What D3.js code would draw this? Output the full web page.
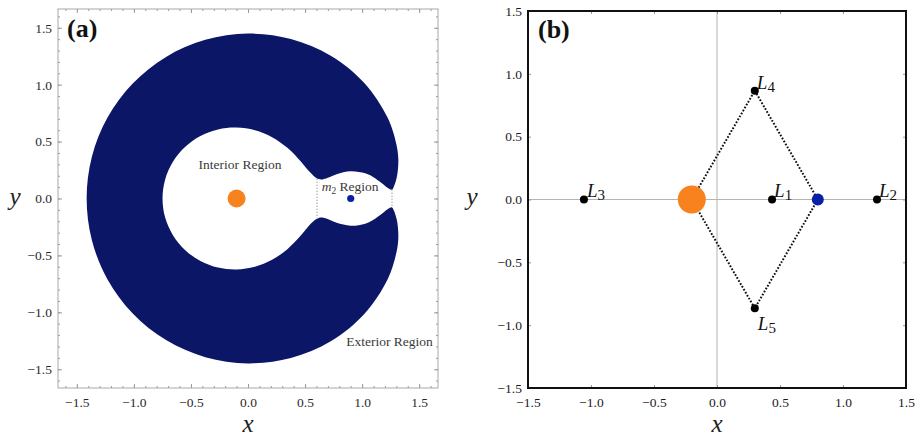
<!DOCTYPE html>
<html>
<head>
<meta charset="utf-8">
<script src="https://cdn.jsdelivr.net/npm/d3@7"></script>
<style>
  body { margin: 0; background: #fff; }
  svg { display: block; }
  svg text { font-family: "Liberation Serif", "Times New Roman", serif; }
</style>
</head>
<body>
<svg id="chart" width="921" height="438"></svg>
<script>
//// DATA ///////////////////////////////////////////////////////////////////////
// Panel (a): upper half of the forbidden (navy) region outline, read off the
// picture, going from the far left over the top, round the L2 tip, over the
// m2 lobe, through the L1 neck and back along the interior hole.
var regionUpper = [
    [-1.414, 0], [-1.368, 0.367], [-1.231, 0.711], [-1.010, 1.010],
    [-0.718, 1.244], [-0.374, 1.394], [0, 1.449], [0.376, 1.402],
    [0.725, 1.255], [1.017, 1.017], [1.225, 0.707], [1.301, 0.473],
    [1.317, 0.353], [1.314, 0.256], [1.303, 0.183], [1.280, 0.110],
    [1.262, 0.078], [1.220, 0.097], [1.179, 0.130], [1.092, 0.192],
    [1.027, 0.221], [0.900, 0.239], [0.777, 0.213], [0.713, 0.187],
    [0.660, 0.170], [0.640, 0.168], [0.620, 0.171], [0.589, 0.187],
    [0.523, 0.252], [0.463, 0.325], [0.345, 0.445], [0.211, 0.539],
    [0.061, 0.600], [-0.100, 0.623], [-0.263, 0.607], [-0.417, 0.549],
    [-0.552, 0.452], [-0.658, 0.322], [-0.726, 0.168], [-0.749, 0]
];
var neckX = [0.605, 1.262];          // dotted lines across L1 and L2 necks
var neckHalf = [0.174, 0.078];
var primaryXA = [-0.1, 0.9];         // m1, m2 in panel (a)

// Panel (b): Lagrange points and primaries
var lagrangeNames = ["1", "2", "3", "4", "5"];
var lagrangeX = [0.437, 1.27, -1.056, 0.3, 0.3];
var lagrangeY = [0, 0, 0, 0.866, -0.866];
var primaryXB = [-0.2, 0.8];

var majorTicks = [-1.5, -1, -0.5, 0, 0.5, 1, 1.5];


//// SETTINGS ///////////////////////////////////////////////////////////////////
var navy = "#0b1666",
    orange = "#f7821e",
    blue = "#0a1fa8";

var svg = d3.select("#chart");

var xA = d3.scaleLinear().domain([-1.665, 1.665]).range([58, 438]),
    yA = d3.scaleLinear().domain([-1.665, 1.665]).range([388, 9]);
var xB = d3.scaleLinear().domain([-1.5, 1.5]).range([528, 906]),
    yB = d3.scaleLinear().domain([-1.5, 1.5]).range([388, 11]);

var fmt = d3.format(".1f");
var minorTicks = d3.range(-16, 17).map(function(d) { return d / 10; });


//// FRAME + AXES ///////////////////////////////////////////////////////////////
function tidy(g, tickColor, textColor) {
    g.select(".domain").remove();
    g.attr("color", tickColor)
     .attr("font-family", null)
     .attr("font-size", 13.5);
    g.selectAll("text").attr("fill", textColor);
}

function frame(x, y, opts) {
    var x0 = x.range()[0], x1 = x.range()[1],
        y0 = y.range()[0], y1 = y.range()[1];

    var sets = [[majorTicks, opts.major, true]];
    if (opts.minor) sets.push([minorTicks, opts.minor, false]);

    sets.forEach(function(s) {
        var vals = s[0], len = -s[1], lab = s[2];
        svg.append("g").attr("transform", "translate(0," + y0 + ")")
            .call(d3.axisBottom(x).tickValues(vals).tickSize(len).tickPadding(9)
                  .tickFormat(lab ? fmt : ""))
            .call(tidy, opts.tickColor, opts.textColor);
        svg.append("g").attr("transform", "translate(0," + y1 + ")")
            .call(d3.axisTop(x).tickValues(vals).tickSize(len).tickFormat(""))
            .call(tidy, opts.tickColor, opts.textColor);
        svg.append("g").attr("transform", "translate(" + x0 + ",0)")
            .call(d3.axisLeft(y).tickValues(vals).tickSize(len).tickPadding(6)
                  .tickFormat(lab ? fmt : ""))
            .call(tidy, opts.tickColor, opts.textColor);
        svg.append("g").attr("transform", "translate(" + x1 + ",0)")
            .call(d3.axisRight(y).tickValues(vals).tickSize(len).tickFormat(""))
            .call(tidy, opts.tickColor, opts.textColor);
    });

    svg.append("rect")
        .attr("x", x0).attr("y", y1)
        .attr("width", x1 - x0).attr("height", y0 - y1)
        .attr("fill", "none")
        .attr("stroke", opts.frameColor)
        .attr("stroke-width", opts.frameWidth);
}

function axisTitles(xLabelX, yLabelX) {
    svg.append("text").attr("x", xLabelX).attr("y", 432)
        .attr("text-anchor", "middle").attr("font-style", "italic")
        .attr("font-size", 25).attr("fill", "#222").text("x");
    svg.append("text").attr("x", yLabelX).attr("y", 205)
        .attr("text-anchor", "middle").attr("font-style", "italic")
        .attr("font-size", 25).attr("fill", "#222").text("y");
}


//// PANEL (a) //////////////////////////////////////////////////////////////////
var outline = regionUpper.concat(
    regionUpper.slice(1, -1).reverse().map(function(p) { return [p[0], -p[1]]; }));

var regionLine = d3.line()
    .x(function(d) { return xA(d[0]); })
    .y(function(d) { return yA(d[1]); })
    .curve(d3.curveCatmullRomClosed.alpha(0.5));

svg.append("path")
    .attr("d", regionLine(outline))
    .attr("fill", navy);

neckX.forEach(function(nx, i) {
    svg.append("line")
        .attr("x1", xA(nx)).attr("x2", xA(nx))
        .attr("y1", yA(neckHalf[i])).attr("y2", yA(-neckHalf[i]))
        .attr("stroke", "#8a8a8a").attr("stroke-width", 1)
        .attr("stroke-dasharray", "1.2,1.8");
});

svg.selectAll(".primA").data(primaryXA).enter().append("circle")
    .attr("cx", function(d) { return xA(d); })
    .attr("cy", yA(0))
    .attr("r", function(d, i) { return i === 0 ? 9 : 3.6; })
    .attr("fill", function(d, i) { return i === 0 ? orange : blue; });

svg.append("text").attr("x", xA(-0.07)).attr("y", yA(0.26))
    .attr("text-anchor", "middle").attr("font-size", 13.5).attr("fill", "#3a3a3a")
    .text("Interior Region");

var m2Label = svg.append("text").attr("x", xA(0.895)).attr("y", yA(0.068))
    .attr("text-anchor", "middle").attr("font-size", 13.5).attr("fill", "#3a3a3a");
m2Label.append("tspan").attr("font-style", "italic").text("m");
m2Label.append("tspan").attr("font-size", 9.5).attr("dy", 3).text("2");
m2Label.append("tspan").attr("dy", -3).text(" Region");

svg.append("text").attr("x", xA(1.62)).attr("y", yA(-1.292))
    .attr("text-anchor", "end").attr("font-size", 13.5).attr("fill", "#3a3a3a")
    .text("Exterior Region");

frame(xA, yA, { major: 4, minor: 2, tickColor: "#9a9a9a", textColor: "#2a2a2a",
                frameColor: "#a8a8a8", frameWidth: 1 });

svg.append("text").attr("x", 67).attr("y", 37)
    .attr("font-weight", "bold").attr("font-size", 26).attr("fill", "#111")
    .text("(a)");

axisTitles(xA(0), 15);


//// PANEL (b) //////////////////////////////////////////////////////////////////
svg.append("line")
    .attr("x1", xB(0)).attr("x2", xB(0)).attr("y1", yB(1.5)).attr("y2", yB(-1.5))
    .attr("stroke", "#b4b4b4").attr("stroke-width", 1);
svg.append("line")
    .attr("x1", xB(-1.5)).attr("x2", xB(1.5)).attr("y1", yB(0)).attr("y2", yB(0))
    .attr("stroke", "#b4b4b4").attr("stroke-width", 1);

// dotted rhombus m1 -> L4 -> m2 -> L5 -> m1
var rhombus = [[primaryXB[0], 0], [lagrangeX[3], lagrangeY[3]],
               [primaryXB[1], 0], [lagrangeX[4], lagrangeY[4]]];
svg.append("path")
    .attr("d", d3.line()
        .x(function(d) { return xB(d[0]); })
        .y(function(d) { return yB(d[1]); })
        .curve(d3.curveLinearClosed)(rhombus))
    .attr("fill", "none")
    .attr("stroke", "#111")
    .attr("stroke-width", 2)
    .attr("stroke-dasharray", "1.7,1.7");

svg.selectAll(".primB").data(primaryXB).enter().append("circle")
    .attr("cx", function(d) { return xB(d); })
    .attr("cy", yB(0))
    .attr("r", function(d, i) { return i === 0 ? 14 : 6; })
    .attr("fill", function(d, i) { return i === 0 ? orange : blue; });

svg.selectAll(".lpt").data(lagrangeNames).enter().append("circle")
    .attr("cx", function(d, i) { return xB(lagrangeX[i]); })
    .attr("cy", function(d, i) { return yB(lagrangeY[i]); })
    .attr("r", 4)
    .attr("fill", "#000");

var labelDx = [2, 2, 3, 2, 3],
    labelDy = [-3, -3, -3, -2, 22];
lagrangeNames.forEach(function(n, i) {
    var t = svg.append("text")
        .attr("x", xB(lagrangeX[i]) + labelDx[i])
        .attr("y", yB(lagrangeY[i]) + labelDy[i])
        .attr("font-size", 19).attr("fill", "#111");
    t.append("tspan").attr("font-style", "italic").text("L");
    t.append("tspan").attr("font-size", 15).attr("dy", 3).text(n);
});

frame(xB, yB, { major: 3, minor: 0, tickColor: "#999", textColor: "#1a1a1a",
                frameColor: "#111", frameWidth: 2 });

svg.append("text").attr("x", 538).attr("y", 38)
    .attr("font-weight", "bold").attr("font-size", 26).attr("fill", "#111")
    .text("(b)");

axisTitles(xB(0), 472);
</script>
</body>
</html>
